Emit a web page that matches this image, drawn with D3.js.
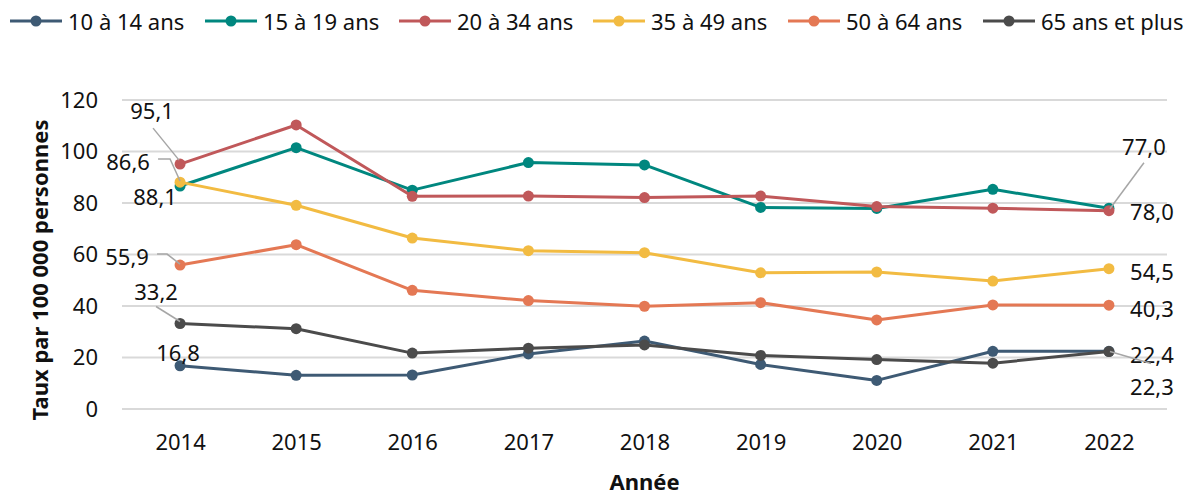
<!DOCTYPE html>
<html>
<head>
<meta charset="utf-8">
<script src="https://cdn.jsdelivr.net/npm/d3@7"></script>
<style>
  body { margin: 0; background: #fff; }
  svg text { font-family: "Noto Sans", "Open Sans", sans-serif; fill: #111; }
</style>
</head>
<body>
<svg id="chart" width="1193" height="496"></svg>
<script>
// Years on the x axis
const years = ["2014", "2015", "2016", "2017", "2018", "2019", "2020", "2021", "2022"];

// Series names and colours
const seriesNames = ["10 à 14 ans", "15 à 19 ans", "20 à 34 ans", "35 à 49 ans", "50 à 64 ans", "65 ans et plus"];
const seriesColors = ["#3e5a74", "#00877f", "#c0585a", "#f2bb42", "#e47854", "#4b4b4b"];

// Values (taux par 100 000 personnes)
const age10to14 = [16.8, 13.1, 13.2, 21.4, 26.4, 17.3, 11.1, 22.4, 22.4];
const age15to19 = [86.6, 101.5, 85.0, 95.7, 94.8, 78.3, 77.9, 85.3, 78.0];
const age20to34 = [95.1, 110.3, 82.6, 82.7, 82.1, 82.7, 78.6, 78.0, 77.0];
const age35to49 = [88.1, 79.1, 66.4, 61.5, 60.7, 52.9, 53.2, 49.7, 54.5];
const age50to64 = [55.9, 63.8, 46.1, 42.1, 39.9, 41.3, 34.6, 40.4, 40.3];
const age65plus = [33.2, 31.2, 21.7, 23.6, 24.9, 20.8, 19.2, 17.8, 22.3];

const yTicks = [0, 20, 40, 60, 80, 100, 120];

// Label text shown on first and last points
const labelTexts = [
    ["16,8", "22,4"],
    ["86,6", "78,0"],
    ["95,1", "77,0"],
    ["88,1", "54,5"],
    ["55,9", "40,3"],
    ["33,2", "22,3"]
];

const allSeries = [age10to14, age15to19, age20to34, age35to49, age50to64, age65plus];

const svg = d3.select("#chart");
const margin = { top: 100, right: 26, bottom: 87, left: 122 };
const width = 1193 - margin.left - margin.right;
const height = 496 - margin.top - margin.bottom;

const x = d3.scalePoint()
    .domain(years)
    .range([0, width])
    .padding(0.5);

const y = d3.scaleLinear()
    .domain([0, 120])
    .range([height, 0]);

const chart = svg.append("g")
    .attr("transform", `translate(${margin.left}, ${margin.top})`);

// Horizontal gridlines
chart.append("g")
    .selectAll("line")
    .data(yTicks)
    .enter().append("line")
    .attr("x1", 0)
    .attr("x2", width)
    .attr("y1", d => y(d))
    .attr("y2", d => y(d))
    .attr("stroke", "#d9d9d9")
    .attr("stroke-width", 2);

// Y axis labels
const yAxis = chart.append("g")
    .call(d3.axisLeft(y).tickValues(yTicks).tickSize(0).tickPadding(24));
yAxis.select(".domain").remove();
yAxis.selectAll("text")
    .style("font-size", "22px")
    .attr("font-family", null)
    .attr("fill", null);

// X axis labels
const xAxis = chart.append("g")
    .attr("transform", `translate(0, ${height})`)
    .call(d3.axisBottom(x).tickSize(0).tickPadding(25));
xAxis.select(".domain").remove();
xAxis.selectAll("text")
    .style("font-size", "22px")
    .attr("font-family", null)
    .attr("fill", null);

// Axis titles
svg.append("text")
    .attr("x", margin.left + width / 2)
    .attr("y", 490)
    .attr("text-anchor", "middle")
    .style("font-size", "22px")
    .style("font-weight", "bold")
    .text("Année");

svg.append("text")
    .attr("transform", "rotate(-90)")
    .attr("x", -270)
    .attr("y", 39)
    .attr("text-anchor", "middle")
    .attr("dominant-baseline", "central")
    .style("font-size", "22px")
    .style("font-weight", "bold")
    .text("Taux par 100 000 personnes");

// Lines and markers
const line = d3.line()
    .x((d, i) => x(years[i]))
    .y(d => y(d));

allSeries.forEach((values, s) => {
    chart.append("path")
        .datum(values)
        .attr("fill", "none")
        .attr("stroke", seriesColors[s])
        .attr("stroke-width", 3)
        .attr("stroke-linejoin", "round")
        .attr("d", line);

    chart.selectAll(".dot-" + s)
        .data(values)
        .enter().append("circle")
        .attr("class", "dot-" + s)
        .attr("cx", (d, i) => x(years[i]))
        .attr("cy", d => y(d))
        .attr("r", 5.5)
        .attr("fill", seriesColors[s]);
});

// Data labels: offsets from the point, plus optional leader line (relative points)
const labelLayout = [
    // [series, pointIndex, dx, dy, leader]
    [0, 0, -2, -14, null],
    [1, 0, -52, -25, [[-22, -27], [-10, -27], [0, -5]]],
    [2, 0, -28, -54, [[-27, -36], [-1, -4]]],
    [3, 0, -25, 14, null],
    [4, 0, -53, -9, [[-23, -11], [-13, -11], [0, -1]]],
    [5, 0, -24, -33, [[-24, -17], [0, -2]]],
    [0, 8, 43, 3, null],
    [1, 8, 43, 3, null],
    [2, 8, 35, -65, [[35, -48], [1, -2]]],
    [3, 8, 43, 2, null],
    [4, 8, 43, 3, null],
    [5, 8, 43, 34, [[1, 0], [42, 12]]]
];

const labels = chart.append("g");
labelLayout.forEach(([s, i, dx, dy, leader]) => {
    const px = x(years[i]);
    const py = y(allSeries[s][i]);
    if (leader) {
        labels.append("polyline")
            .attr("points", leader.map(p => `${px + p[0]},${py + p[1]}`).join(" "))
            .attr("fill", "none")
            .attr("stroke", "#a6a6a6")
            .attr("stroke-width", 1.5);
    }
    labels.append("text")
        .attr("x", px + dx)
        .attr("y", py + dy)
        .attr("text-anchor", "middle")
        .attr("dominant-baseline", "central")
        .style("font-size", "22px")
        .text(labelTexts[s][i === 0 ? 0 : 1]);
});

// Legend
const legendStarts = [10, 205, 399, 593, 788, 983];
const legend = svg.append("g").attr("transform", "translate(0, 21)");
seriesNames.forEach((name, s) => {
    const g = legend.append("g").attr("transform", `translate(${legendStarts[s]}, 0)`);
    g.append("line")
        .attr("x1", 0).attr("x2", 52)
        .attr("stroke", seriesColors[s])
        .attr("stroke-width", 3);
    g.append("circle")
        .attr("cx", 26).attr("r", 5.5)
        .attr("fill", seriesColors[s]);
    g.append("text")
        .attr("x", 58)
        .attr("dominant-baseline", "central")
        .style("font-size", "22px")
        .text(name);
});
</script>
</body>
</html>
